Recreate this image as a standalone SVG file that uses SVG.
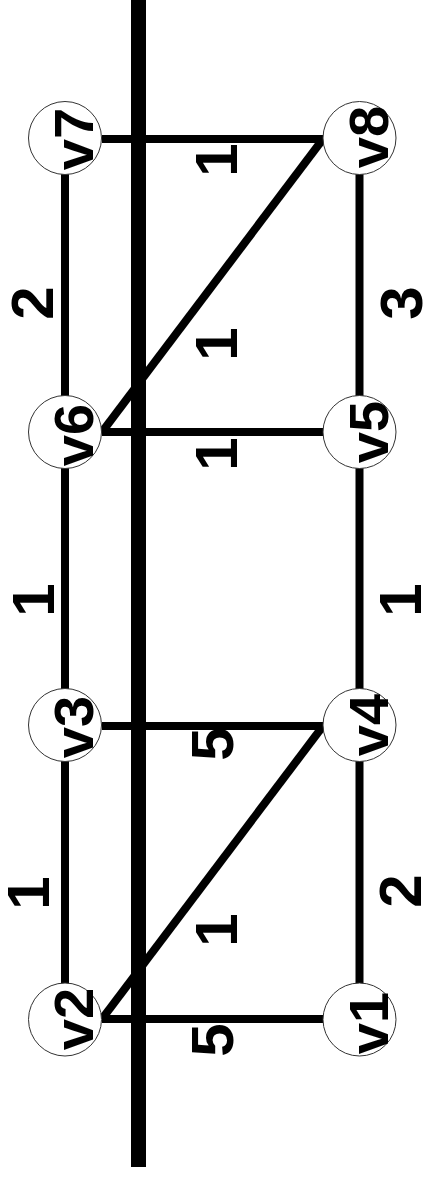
<svg xmlns="http://www.w3.org/2000/svg" width="424" height="1180" viewBox="0 0 424 1180">
<style>
.e{stroke:#000;stroke-width:8;fill:none}
.n circle{fill:#fff;stroke:#333;stroke-width:1}
.nl{font-family:"Liberation Sans",Arial,sans-serif;font-weight:bold;font-size:56px;text-anchor:middle;fill:#000}
.el{font-family:"Liberation Sans",Arial,sans-serif;font-weight:bold;font-size:60px;text-anchor:middle;fill:#000}
</style>
<rect width="424" height="1180" fill="#fff"/>
<g id="connectors">
<line class="e" x1="65" y1="138" x2="65" y2="1019"/>
<line class="e" x1="359.5" y1="138" x2="359.5" y2="1019"/>
<line class="e" x1="102" y1="139" x2="323" y2="139"/>
<line class="e" x1="323" y1="139" x2="102" y2="432"/>
<line class="e" x1="102" y1="432" x2="323" y2="432"/>
<line class="e" x1="102" y1="726" x2="323" y2="726"/>
<line class="e" x1="323" y1="726" x2="102" y2="1019"/>
<line class="e" x1="102" y1="1019" x2="323" y2="1019"/>
</g>
<rect id="cut" x="131" y="0" width="15" height="1167" fill="#000"/>
<g id="edge-labels">
<text class="el" transform="translate(237,160) rotate(-90)">1</text>
<text class="el" transform="translate(53,303) rotate(-90)">2</text>
<text class="el" transform="translate(237,344) rotate(-90)">1</text>
<text class="el" transform="translate(422,303) rotate(-90)">3</text>
<text class="el" transform="translate(237,454) rotate(-90)">1</text>
<text class="el" transform="translate(54,600) rotate(-90)">1</text>
<text class="el" transform="translate(421,600) rotate(-90)">1</text>
<text class="el" transform="translate(233,744) rotate(-90)">5</text>
<text class="el" transform="translate(49,893) rotate(-90)">1</text>
<text class="el" transform="translate(237,930) rotate(-90)">1</text>
<text class="el" transform="translate(421,891) rotate(-90)">2</text>
<text class="el" transform="translate(233,1040) rotate(-90)">5</text>
</g>
<g id="v7" class="n"><circle cx="65" cy="138" r="36.5"/><text class="nl" transform="translate(93,139) rotate(-90)">v7</text></g>
<g id="v8" class="n"><circle cx="359.5" cy="138" r="36.5"/><text class="nl" transform="translate(388,137) rotate(-90)">v8</text></g>
<g id="v6" class="n"><circle cx="65" cy="432" r="36.5"/><text class="nl" transform="translate(93,435) rotate(-90)">v6</text></g>
<g id="v5" class="n"><circle cx="359.5" cy="432" r="36.5"/><text class="nl" transform="translate(388,432) rotate(-90)">v5</text></g>
<g id="v3" class="n"><circle cx="65" cy="725" r="36.5"/><text class="nl" transform="translate(93,727) rotate(-90)">v3</text></g>
<g id="v4" class="n"><circle cx="359.5" cy="725" r="36.5"/><text class="nl" transform="translate(388,725) rotate(-90)">v4</text></g>
<g id="v2" class="n"><circle cx="65" cy="1019.5" r="36.5"/><text class="nl" transform="translate(93,1019) rotate(-90)">v2</text></g>
<g id="v1" class="n"><circle cx="359.5" cy="1019.5" r="36.5"/><text class="nl" transform="translate(388,1023) rotate(-90)">v1</text></g>
</svg>
